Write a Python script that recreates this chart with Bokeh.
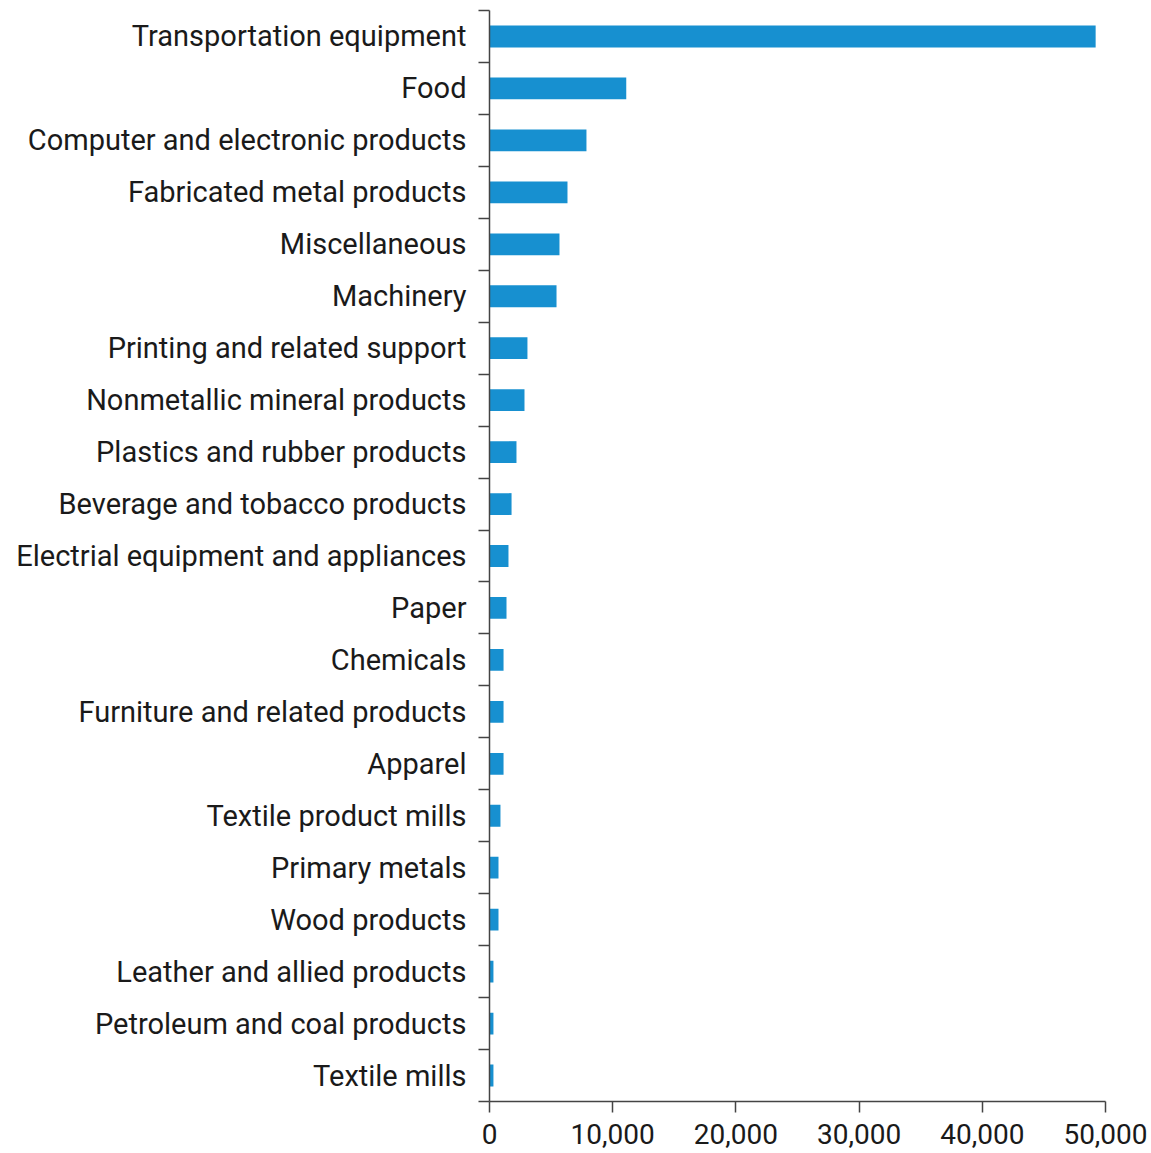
from bokeh.plotting import figure
from bokeh.models import Range1d, FixedTicker
from bokeh.embed import file_html
from bokeh.resources import INLINE

categories = [
    "Transportation equipment", "Food", "Computer and electronic products",
    "Fabricated metal products", "Miscellaneous", "Machinery",
    "Printing and related support", "Nonmetallic mineral products",
    "Plastics and rubber products", "Beverage and tobacco products",
    "Electrial equipment and appliances", "Paper", "Chemicals",
    "Furniture and related products", "Apparel", "Textile product mills",
    "Primary metals", "Wood products", "Leather and allied products",
    "Petroleum and coal products", "Textile mills",
]
values = [49200, 11100, 7870, 6330, 5680, 5440, 3080, 2840, 2190, 1790,
          1540, 1380, 1140, 1140, 1140, 890, 730, 730, 320, 320, 320]
x_ticks = [0, 10000, 20000, 30000, 40000, 50000]

n = len(categories)
centers = [n - 0.5 - i for i in range(n)]
bounds = list(range(n + 1))

p = figure(width=1151, height=1153, output_backend="svg", toolbar_location=None,
           x_range=Range1d(0, 50000), y_range=Range1d(0, n),
           min_border_left=489, min_border_right=46, min_border_top=10,
           min_border_bottom=52)
p.outline_line_color = None
p.grid.grid_line_color = None

p.hbar(y=centers, right=values, left=0, height=0.42, color="#1790d0", line_color=None)

font = "Roboto"
yax = p.yaxis[0]
yax.ticker = FixedTicker(ticks=centers, minor_ticks=bounds)
yax.major_label_overrides = {c: lab for c, lab in zip(centers, categories)}
yax.major_tick_out = 0
yax.major_tick_in = 0
yax.minor_tick_out = 11
yax.minor_tick_in = 0
yax.minor_tick_line_color = "#444444"
yax.minor_tick_line_width = 1.5
yax.axis_line_color = "#444444"
yax.axis_line_width = 1.5
yax.major_label_standoff = 12
yax.major_label_text_font = font
yax.major_label_text_font_size = "29px"
yax.major_label_text_color = "#1a1a1a"

xax = p.xaxis[0]
xax.ticker = FixedTicker(ticks=x_ticks)
xax.major_label_overrides = {t: f"{t:,}" for t in x_ticks}
xax.major_tick_out = 11
xax.major_tick_in = 0
xax.minor_tick_line_color = None
xax.major_tick_line_color = "#444444"
xax.major_tick_line_width = 1.5
xax.axis_line_color = "#444444"
xax.axis_line_width = 1.5
xax.major_label_standoff = 11
xax.major_label_text_font = font
xax.major_label_text_font_size = "28px"
xax.major_label_text_color = "#1a1a1a"

open("out.html", "w").write(file_html(p, INLINE))
